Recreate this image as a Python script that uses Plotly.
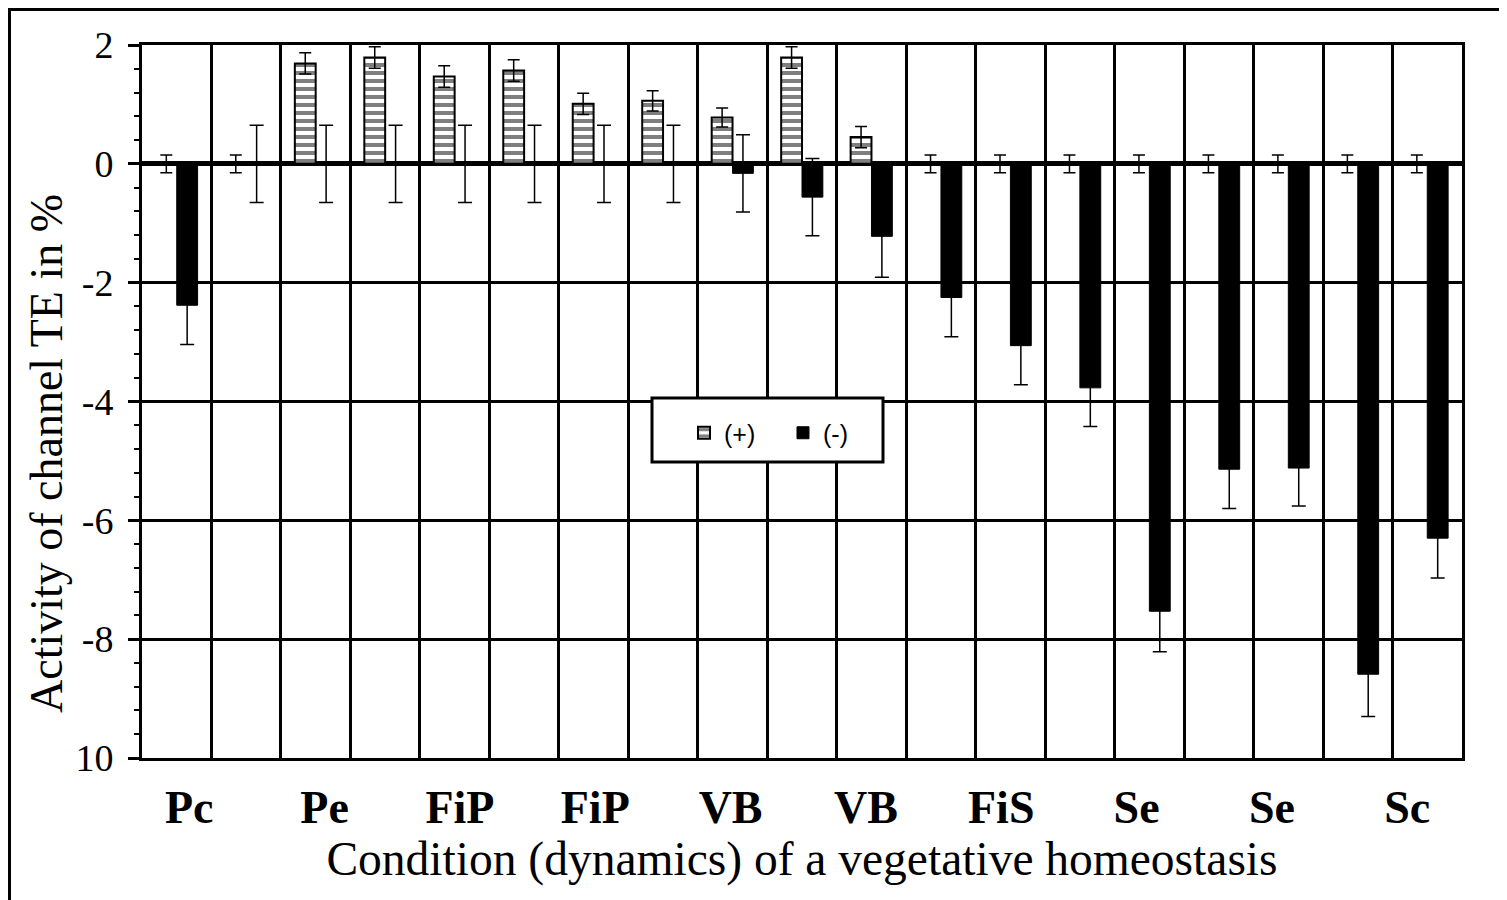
import plotly.graph_objects as go

# ---------------- data ----------------
categories = list(range(19))
plus_values = [0, 0, 1.69, 1.79, 1.47, 1.57, 1.01, 1.06, 0.78, 1.79, 0.45,
               0, 0, 0, 0, 0, 0, 0, 0]
plus_errors = [0.15, 0.15, 0.18, 0.18, 0.18, 0.18, 0.18, 0.17, 0.16, 0.18, 0.18,
               0.15, 0.15, 0.15, 0.15, 0.15, 0.15, 0.15, 0.15]
minus_values = [-2.38, 0, 0, 0, 0, 0, 0, 0, -0.16, -0.56, -1.22,
                -2.25, -3.06, -3.77, -7.53, -5.14, -5.12, -8.59, -6.30]
minus_errors = [0.66, 0.65, 0.65, 0.65, 0.65, 0.65, 0.65, 0.65, 0.65, 0.65, 0.69,
                0.66, 0.66, 0.65, 0.68, 0.66, 0.64, 0.71, 0.67]
x_labels = ["Pc", "Pe", "FiP", "FiP", "VB", "VB", "FiS", "Se", "Se", "Sc"]
y_tickvals = [2, 0, -2, -4, -6, -8, -10]
y_ticktext = ["2", "0", "-2", "-4", "-6", "-8", "10"]
x_title = "Condition (dynamics) of a vegetative homeostasis"
y_title = "Activity of channel TE in %"

SERIF = "Liberation Serif, Times New Roman, serif"
SANS = "Liberation Sans, Arial, sans-serif"

# page body has an 8px default margin; the figure is sized to fit the window
OFF = 8
FIG_W, FIG_H = 1507 - OFF, 900 - OFF
PL, PT, PR, PB = 142, 45, 1462, 758   # plot area in page pixels
PW, PH = PR - PL, PB - PT


def px(xp):
    return (xp - PL) / PW


def py(yp):
    return (PB - yp) / PH


fig = go.Figure()
fig.add_trace(go.Bar(
    x=categories, y=plus_values, name="(+)",
    marker=dict(color="white", line=dict(color="black", width=2),
                pattern=dict(shape="-", fgcolor="black", bgcolor="white",
                             size=8, solidity=0.5, fillmode="overlay")),
    error_y=dict(type="data", array=plus_errors, visible=True,
                 color="black", thickness=1.5, width=6),
))
fig.add_trace(go.Bar(
    x=categories, y=minus_values, name="(-)",
    marker=dict(color="black", line=dict(color="black", width=1)),
    error_y=dict(type="data", array=minus_errors, visible=True,
                 color="black", thickness=1.5, width=7),
))

label_pos = [0.18 + 1.948 * i for i in range(len(x_labels))]

fig.update_layout(
    width=FIG_W, height=FIG_H,
    margin=dict(l=PL - OFF, r=(1507 - PR), t=PT - OFF, b=FIG_H - (PB - OFF)),
    paper_bgcolor="white", plot_bgcolor="white",
    barmode="group", bargap=0.4, bargroupgap=0,
    showlegend=True,
    legend=dict(orientation="h", x=px(684), y=py(433), xanchor="left", yanchor="middle",
                bgcolor="rgba(0,0,0,0)", borderwidth=0,
                font=dict(family=SANS, size=25, color="black"),
                entrywidth=54, itemwidth=30),
    xaxis=dict(
        range=[-0.5, 18.5], tickmode="array", tickvals=label_pos, ticktext=x_labels,
        tickfont=dict(family=SERIF, size=46, color="black", weight="bold"),
        ticks="outside", ticklen=7, tickcolor="rgba(0,0,0,0)",
        showgrid=False, zeroline=False,
        showline=True, linecolor="black", linewidth=3, mirror=True,
        minor=dict(tickmode="linear", tick0=-0.5, dtick=1, showgrid=True,
                   gridcolor="black", gridwidth=3, ticks=""),
        title=dict(text=x_title,
                   font=dict(family=SERIF, size=47.5, color="black"), standoff=2),
    ),
    yaxis=dict(
        range=[-10, 2], tickmode="array", tickvals=y_tickvals, ticktext=y_ticktext,
        tickfont=dict(family=SERIF, size=38, color="black"),
        ticks="outside", ticklen=11, tickwidth=3, tickcolor="black",
        ticklabelstandoff=7,
        showgrid=True, gridcolor="black", gridwidth=3,
        zeroline=True, zerolinecolor="black", zerolinewidth=5,
        showline=True, linecolor="black", linewidth=3, mirror=True,
        minor=dict(tickmode="linear", tick0=-10, dtick=0.4, ticks="outside",
                   ticklen=5, tickwidth=2, tickcolor="black", showgrid=False),
    ),
    annotations=[
        dict(text=y_title, textangle=-90, xref="paper", yref="paper",
             x=px(46), y=py(454), xanchor="center", yanchor="middle",
             showarrow=False, font=dict(family=SERIF, size=46, color="black")),
    ],
    shapes=[
        # legend frame
        dict(type="rect", xref="paper", yref="paper", layer="above",
             x0=px(652), x1=px(883), y0=py(462), y1=py(398),
             line=dict(color="black", width=3), fillcolor="white"),
        # outer frame of the picture
        dict(type="rect", xref="paper", yref="paper", layer="above",
             x0=px(9.5), x1=px(1502), y0=py(915), y1=py(9.5),
             line=dict(color="black", width=3), fillcolor="rgba(0,0,0,0)"),
    ],
)

fig.write_html("out.html")
